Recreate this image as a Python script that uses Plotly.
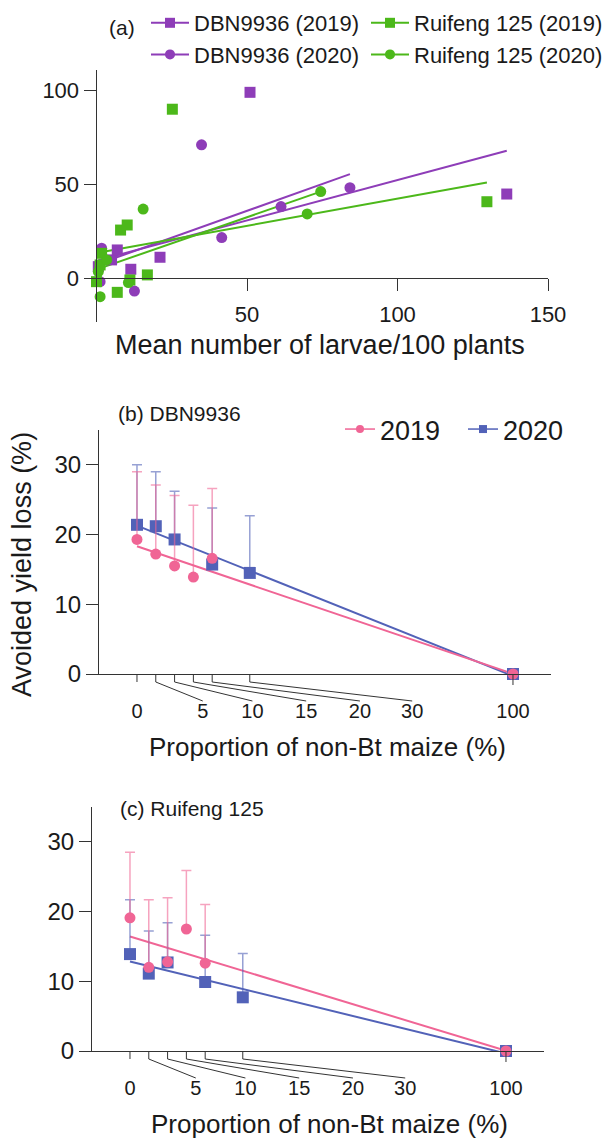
import numpy as np
import plotly.graph_objects as go

W, H = 606, 1141
FONT = "Liberation Sans, Arial, Helvetica, sans-serif"
TXT = "#1a1a1a"
AX = "#333333"
PURPLE = "#8e3db8"
GREEN = "#4cb81a"
PINK = "#f06595"
BLUE = "#5262b8"
PINK_ERR = "rgba(240,101,149,0.6)"
BLUE_ERR = "rgba(82,98,184,0.6)"


def fx(px):
    return px / W


def fy(py):
    return 1 - py / H


# ---------------- Panel (a) data ----------------
dbn19_larvae = [0.6, 5.0, 6.9, 11.4, 21.1, 51.0, 136.3]
dbn19_loss = [6.2, 9.8, 15.1, 4.8, 11.2, 99.1, 44.9]
dbn20_larvae = [1.2, 1.7, 12.6, 34.9, 41.6, 61.3, 84.2]
dbn20_loss = [-1.8, 16.0, -6.8, 71.1, 21.7, 38.2, 48.3]
rf19_larvae = [0.0, 1.2, 1.7, 6.9, 8.0, 10.2, 11.1, 16.9, 25.2, 129.7]
rf19_loss = [-1.8, 7.1, 13.3, -7.5, 25.7, 28.4, -0.9, 1.8, 90.1, 40.8]
rf20_larvae = [0.6, 1.2, 3.4, 10.6, 15.5, 70.0, 74.5]
rf20_loss = [3.5, -9.8, 9.8, -2.3, 36.9, 34.3, 46.2]

# fitted lines in (a) (value at start, value at end)
dbn19_fit = [9.6, 68.0]
dbn20_fit = [8.0, 55.5]
rf19_fit = [13.5, 51.0]
rf20_fit = [5.0, 46.2]

# ---------------- Panels (b), (c) data ----------------
prop_2019 = [0, 5, 10, 15, 20, 100]
prop_2020 = [0, 5, 10, 20, 30, 100]
b_2019 = [19.3, 17.2, 15.5, 13.9, 16.6, 0]
b_2019_err = [9.7, 9.9, 10.1, 10.3, 10.0, 0]
b_2020 = [21.4, 21.2, 19.3, 15.7, 14.5, 0]
b_2020_err = [8.6, 7.8, 6.9, 8.1, 8.2, 0]
c_2019 = [19.1, 12.0, 12.8, 17.5, 12.6, 0]
c_2019_err = [9.4, 9.7, 9.2, 8.4, 8.4, 0]
c_2020 = [13.9, 11.1, 12.7, 9.9, 7.7, 0]
c_2020_err = [7.8, 6.1, 5.7, 6.7, 6.3, 0]

prop_ticks = [0, 5, 10, 15, 20, 30, 100]
prop_tick_text = ["0", "5", "10", "15", "20", "30", "100"]
# where the (spread-out) labels sit, in axis units
prop_label_pos = [0, 17.5, 30.7, 45.0, 59.3, 73.2, 100]

fig = go.Figure()

# ---------- panel (a) ----------
a_series = [
    ("DBN9936 (2019)", dbn19_larvae, dbn19_loss, dbn19_fit, PURPLE, "square", "legend"),
    ("DBN9936 (2020)", dbn20_larvae, dbn20_loss, dbn20_fit, PURPLE, "circle", "legend"),
    ("Ruifeng 125 (2019)", rf19_larvae, rf19_loss, rf19_fit, GREEN, "square", "legend3"),
    ("Ruifeng 125 (2020)", rf20_larvae, rf20_loss, rf20_fit, GREEN, "circle", "legend3"),
]
for name, xs, ys, fit, col, sym, lg in a_series:
    fig.add_trace(go.Scatter(
        x=[min(xs), max(xs)], y=fit, mode="lines", line=dict(color=col, width=2),
        showlegend=False, xaxis="x", yaxis="y", cliponaxis=False, hoverinfo="skip"))
for name, xs, ys, fit, col, sym, lg in a_series:
    fig.add_trace(go.Scatter(
        x=xs, y=ys, mode="markers", marker=dict(color=col, symbol=sym, size=11, line=dict(width=0)),
        showlegend=False, xaxis="x", yaxis="y", cliponaxis=False, name=name))
# legend entries (a): two columns
for name, xs, ys, fit, col, sym, lg in a_series:
    fig.add_trace(go.Scatter(
        x=[None], y=[None], mode="lines+markers", name=name,
        line=dict(color=col, width=2), marker=dict(color=col, symbol=sym, size=10),
        legend=lg, xaxis="x", yaxis="y"))

# ---------- panels (b), (c) ----------
panels = [
    ("x2", "y2", b_2019, b_2019_err, b_2020, b_2020_err),
    ("x3", "y3", c_2019, c_2019_err, c_2020, c_2020_err),
]
for xa, ya, v19, e19, v20, e20 in panels:
    for xs, vs, col in [(prop_2020, v20, BLUE), (prop_2019, v19, PINK)]:
        k, b0 = np.polyfit(xs, vs, 1)
        fig.add_trace(go.Scatter(
            x=[0, 100], y=[b0, b0 + 100 * k], mode="lines", line=dict(color=col, width=2),
            showlegend=False, xaxis=xa, yaxis=ya, cliponaxis=False, hoverinfo="skip"))
    fig.add_trace(go.Scatter(
        x=prop_2020, y=v20, mode="markers",
        marker=dict(color=BLUE, symbol="square", size=12),
        error_y=dict(type="data", array=e20, arrayminus=[0] * len(e20), symmetric=False,
                     color=BLUE_ERR, thickness=1.5, width=5),
        showlegend=False, xaxis=xa, yaxis=ya, cliponaxis=False))
    fig.add_trace(go.Scatter(
        x=prop_2019, y=v19, mode="markers",
        marker=dict(color=PINK, symbol="circle", size=11),
        error_y=dict(type="data", array=e19, arrayminus=[0] * len(e19), symmetric=False,
                     color=PINK_ERR, thickness=1.5, width=5),
        showlegend=False, xaxis=xa, yaxis=ya, cliponaxis=False))

# legend (b)
fig.add_trace(go.Scatter(x=[None], y=[None], mode="lines+markers", name="2019",
                         line=dict(color=PINK, width=1.5), marker=dict(color=PINK, symbol="circle", size=8),
                         legend="legend2", xaxis="x2", yaxis="y2"))
fig.add_trace(go.Scatter(x=[None], y=[None], mode="lines+markers", name="2020",
                         line=dict(color=BLUE, width=1.5), marker=dict(color=BLUE, symbol="square", size=8),
                         legend="legend2", xaxis="x2", yaxis="y2"))

# broken-axis ticks with leader lines, drawn in overlay subplots
for xa, ya in [("x4", "y4"), ("x5", "y5")]:
    lx, ly = [], []
    for tv, lp in zip(prop_ticks, prop_label_pos):
        if tv in (0, 100):
            lx += [tv, tv, None]
            ly += [0, -8 if tv == 0 else -11, None]
        else:
            lx += [tv, tv, lp, None]
            ly += [0, -8, -27, None]
    fig.add_trace(go.Scatter(x=lx, y=ly, mode="lines", line=dict(color=AX, width=1),
                             showlegend=False, xaxis=xa, yaxis=ya, cliponaxis=False, hoverinfo="skip"))
    fig.add_trace(go.Scatter(x=prop_label_pos, y=[-39] * len(prop_label_pos), mode="text",
                             text=prop_tick_text, textfont=dict(size=20, color=TXT, family=FONT),
                             showlegend=False, xaxis=xa, yaxis=ya, cliponaxis=False, hoverinfo="skip"))

# ---------- axes ----------
ya_range = [-23.3, 111.0]
ya_dom = [fy(322), fy(70)]
pos_a = ya_dom[0] + (0 - ya_range[0]) / (ya_range[1] - ya_range[0]) * (ya_dom[1] - ya_dom[0])

common = dict(showgrid=False, zeroline=False, showline=True, linecolor=AX, linewidth=1,
              ticks="outside", tickcolor=AX, tickwidth=1)

xrange_bc = [-10.1, 110.2]
bx_dom = [fx(99), fx(99 + 120.3 * 3.76)]
cx_dom = [fx(92), fx(92 + 120.3 * 3.76)]
by_dom = [fy(674), fy(430)]
cy_dom = [fy(1051), fy(807)]

legend_a = dict(y=fy(2), xanchor="left", yanchor="top", orientation="v", itemwidth=38,
                font=dict(size=22), bgcolor="rgba(0,0,0,0)", traceorder="normal", tracegroupgap=0)

fig.update_layout(
    width=W, height=H, margin=dict(l=0, r=0, t=0, b=0, autoexpand=False),
    plot_bgcolor="white", paper_bgcolor="white",
    font=dict(family=FONT, size=20, color=TXT),
    xaxis=dict(domain=[fx(96.5), fx(548)], range=[0, 150], anchor="free", position=pos_a,
               tickvals=[50, 100, 150], ticklen=12, tickfont=dict(size=22), ticklabelstandoff=4,
               **common),
    yaxis=dict(domain=ya_dom, range=ya_range, anchor="x", tickvals=[0, 50, 100], ticklen=12,
               tickfont=dict(size=22), **common),
    xaxis2=dict(domain=bx_dom, range=xrange_bc, anchor="y2", showticklabels=False,
                showgrid=False, zeroline=False, showline=True, linecolor=AX, ticks=""),
    yaxis2=dict(domain=by_dom, range=[0, 35], anchor="x2", tickvals=[0, 10, 20, 30], ticklen=12,
                tickfont=dict(size=24), **common),
    xaxis3=dict(domain=cx_dom, range=xrange_bc, anchor="y3", showticklabels=False,
                showgrid=False, zeroline=False, showline=True, linecolor=AX, ticks=""),
    yaxis3=dict(domain=cy_dom, range=[0, 35], anchor="x3", tickvals=[0, 10, 20, 30], ticklen=12,
                tickfont=dict(size=24), **common),
    xaxis4=dict(domain=bx_dom, range=xrange_bc, anchor="y4", visible=False),
    yaxis4=dict(domain=[fy(724), fy(674)], range=[-50, 0], anchor="x4", visible=False),
    xaxis5=dict(domain=cx_dom, range=xrange_bc, anchor="y5", visible=False),
    yaxis5=dict(domain=[fy(1101), fy(1051)], range=[-50, 0], anchor="x5", visible=False),
    legend=dict(x=fx(146), **legend_a),
    legend3=dict(x=fx(366), **legend_a),
    legend2=dict(x=fx(340), y=fy(405), xanchor="left", yanchor="top", orientation="h",
                 entrywidth=78, entrywidthmode="pixels",
                 font=dict(size=27), bgcolor="rgba(0,0,0,0)"),
    annotations=[
        dict(text="(a)", x=fx(122), y=fy(27), xref="paper", yref="paper", showarrow=False,
             font=dict(size=21), xanchor="center", yanchor="middle"),
        dict(text="Mean number of larvae/100 plants", x=fx(320), y=fy(345), xref="paper", yref="paper",
             showarrow=False, font=dict(size=27), xanchor="center", yanchor="middle"),
        dict(text="(b) DBN9936", x=fx(116), y=fy(413), xref="paper", yref="paper", showarrow=False,
             font=dict(size=21), xanchor="left", yanchor="middle"),
        dict(text="(c) Ruifeng 125", x=fx(118), y=fy(808), xref="paper", yref="paper", showarrow=False,
             font=dict(size=21), xanchor="left", yanchor="middle"),
        dict(text="Avoided yield loss (%)", x=fx(22), y=fy(565), xref="paper", yref="paper",
             showarrow=False, font=dict(size=27), textangle=-90, xanchor="center", yanchor="middle"),
        dict(text="Proportion of non-Bt maize (%)", x=fx(327), y=fy(747), xref="paper", yref="paper",
             showarrow=False, font=dict(size=26), xanchor="center", yanchor="middle"),
        dict(text="Proportion of non-Bt maize (%)", x=fx(329), y=fy(1124), xref="paper", yref="paper",
             showarrow=False, font=dict(size=26), xanchor="center", yanchor="middle"),
    ],
)

fig.write_html("out.html")
